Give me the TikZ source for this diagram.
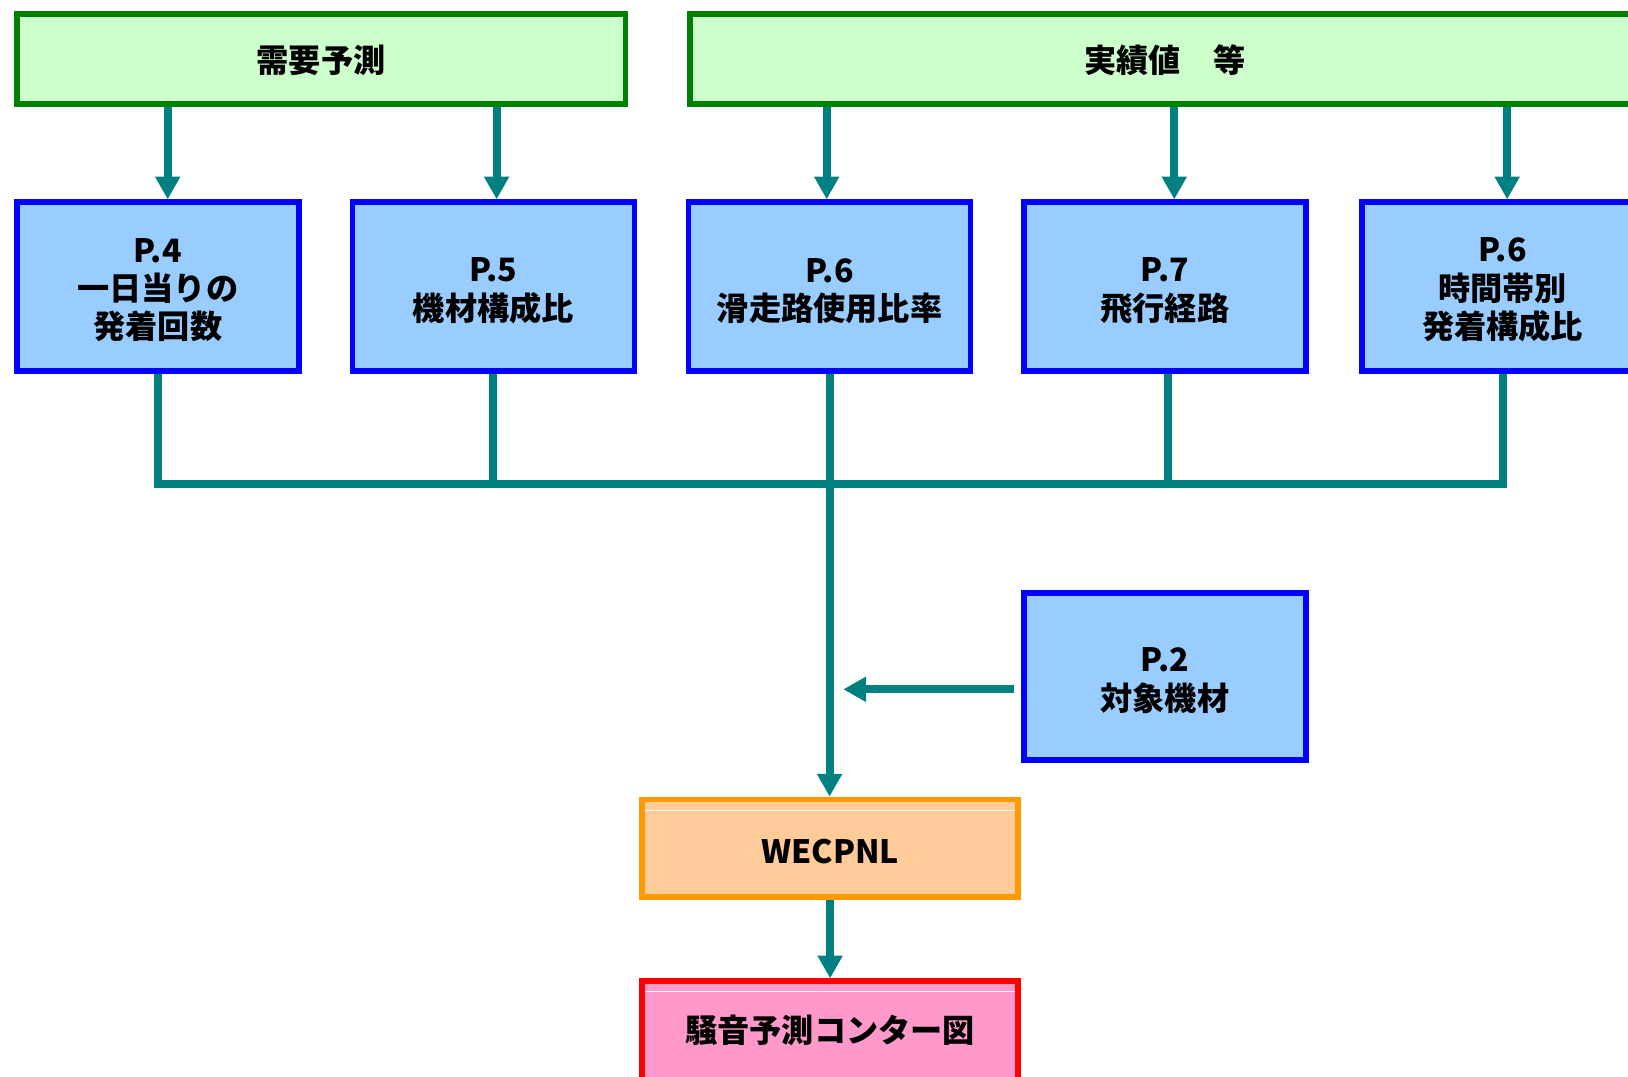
\documentclass[tikz,border=0pt]{standalone}
\usepackage{fontspec}
\newfontfamily\jp{Noto Sans CJK JP}
\usetikzlibrary{arrows.meta}
\definecolor{gborder}{RGB}{0,128,0}
\definecolor{gfill}{RGB}{204,255,204}
\definecolor{bborder}{RGB}{0,0,255}
\definecolor{bfill}{RGB}{153,204,255}
\definecolor{oborder}{RGB}{255,153,0}
\definecolor{ofill}{RGB}{255,204,153}
\definecolor{rborder}{RGB}{255,0,0}
\definecolor{rfill}{RGB}{255,153,204}
\definecolor{teal2}{RGB}{0,128,128}
\begin{document}
\begin{tikzpicture}[x=0.5pt,y=-0.5pt,
  font=\jp\bfseries\fontsize{15.5pt}{18.45pt}\selectfont,
  box/.style={draw, line width=2.7pt, inner sep=0pt},
  greenbox/.style={box, draw=gborder, fill=gfill, minimum height=43.35pt},
  bluebox/.style={box, draw=bborder, fill=bfill, minimum width=135.8pt, minimum height=81.4pt},
  orangebox/.style={box, draw=oborder, fill=ofill, minimum width=181.1pt, minimum height=47.05pt},
  redbox/.style={box, draw=rborder, fill=rfill, minimum width=181.1pt, minimum height=49.3pt},
  txt/.style={align=center, inner sep=0pt},
  conn/.style={draw=teal2, line width=3.85pt},
  arr/.style={conn, -{Triangle[width=11.5pt,length=11pt]}},
  hl/.style={draw=white, line width=0.5pt}]
\useasboundingbox (0,0) rectangle (1568,1037);
\clip (0,0) rectangle (1568,1037);

% boxes
\node[greenbox, minimum width=293.05pt] (g1) at (309.3,56.65) {};
\node[greenbox, minimum width=457.3pt] (g2) at (1122,56.65) {};

\node[bluebox] (b1) at (152,276.1) {};
\node[bluebox] (b2) at (475.2,276.1) {};
\node[bluebox] (b3) at (799,276.1) {};
\node[bluebox] (b4) at (1122,276.1) {};
\node[bluebox] (b5) at (1447.3,276.1) {};
\node[bluebox, minimum height=80.45pt] (p2) at (1122,651.4) {};

\node[orangebox] (wec) at (799.5,817) {};
\node[redbox] (red) at (799.5,994.3) {};

\draw[hl] ([xshift=2.7pt,yshift=-6.85pt]wec.north west) -- ([xshift=-2.7pt,yshift=-6.85pt]wec.north east);
\draw[hl] ([xshift=2.7pt,yshift=-6.1pt]red.north west) -- ([xshift=-2.7pt,yshift=-6.1pt]red.north east);

% texts
\node[txt] (g1t) at ([yshift=-0.8pt]g1.center) {需要予測};
\node[txt] (g2t) at ([yshift=-0.8pt]g2.center) {実績値　等};
\node[txt] (b1t) at ([yshift=-1.6pt]b1.center) {P.4\\一日当りの\\発着回数};
\node[txt] (b2t) at ([yshift=-2pt]b2.center) {P.5\\機材構成比};
\node[txt] (b3t) at ([yshift=-2pt]b3.center) {P.6\\滑走路使用比率};
\node[txt] (b4t) at ([yshift=-2pt]b4.center) {P.7\\飛行経路};
\node[txt] (b5t) at ([yshift=-1.6pt]b5.center) {P.6\\時間帯別\\発着構成比};
\node[txt] (p2t) at ([yshift=-2.1pt]p2.center) {P.2\\対象機材};
\node[txt] (wect) at ([yshift=-1.65pt]wec.center) {WECPNL};
\node[txt] (redt) at ([yshift=1.15pt]red.center) {騒音予測コンター図};

% top arrows
\draw[arr] ([xshift=4.75pt]b1.north |- g1.south) -- ([xshift=4.75pt]b1.north);
\draw[arr] ([xshift=1.55pt]b2.north |- g1.south) -- ([xshift=1.55pt]b2.north);
\draw[arr] ([xshift=-1.4pt]b3.north |- g2.south) -- ([xshift=-1.4pt]b3.north);
\draw[arr] ([xshift=4.5pt]b4.north |- g2.south) -- ([xshift=4.5pt]b4.north);
\draw[arr] ([xshift=2.15pt]b5.north |- g2.south) -- ([xshift=2.15pt]b5.north);

% bus
\coordinate (bus) at (799,466);
\draw[conn] (b1.south) |- (b5.south |- bus) -- (b5.south);
\draw[conn] (b2.south) -- (b2.south |- bus);
\draw[conn] ([xshift=1.25pt]b4.south) -- ([xshift=1.25pt]b4.south |- bus);
\draw[arr] (b3.south) -- (b3.south |- wec.north);

% P.2 arrow
\coordinate (p2end) at (812.2,663.9);
\draw[arr] ([xshift=-3.35pt]p2.west |- p2end) -- (p2end);

% bottom arrow
\draw[arr] (wec.south) -- (red.north);
\end{tikzpicture}
\end{document}
